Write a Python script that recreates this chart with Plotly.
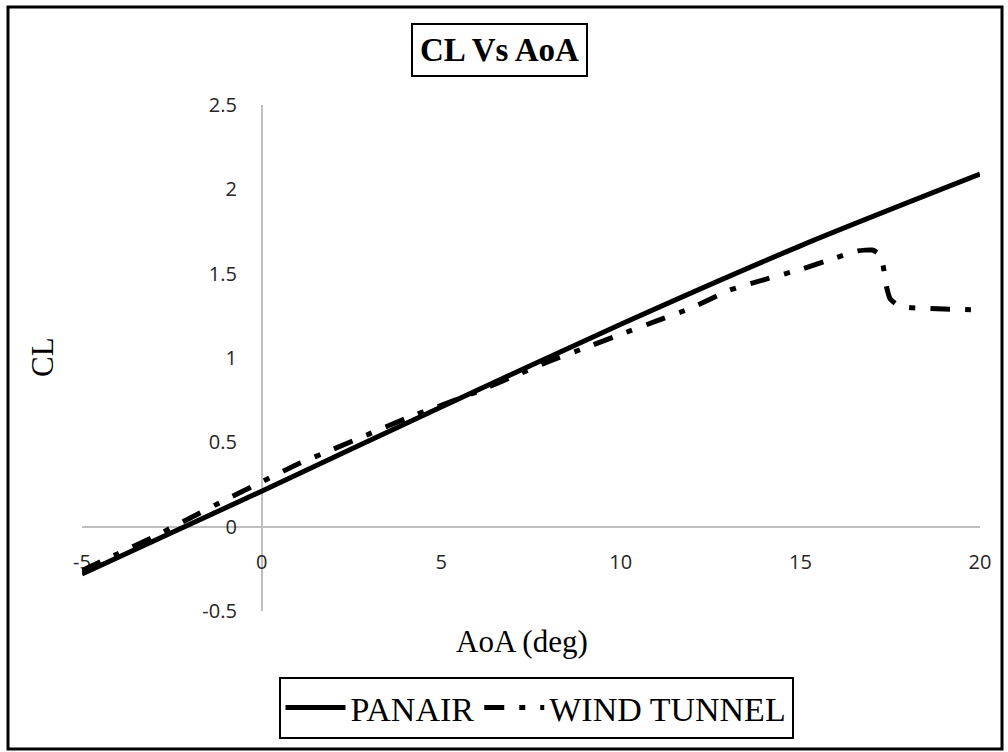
import plotly.graph_objects as go

# ---- data ----
aoa_panair = [-5, 0, 5, 10, 15, 20]
cl_panair = [-0.28, 0.21, 0.71, 1.20, 1.665, 2.09]

aoa_wind = [-5, -4, -3, -2, -1, 0, 1, 2, 3, 4, 5, 6, 7, 8, 9, 10, 11, 12, 13, 14,
            15, 16, 16.6, 17.0, 17.2, 17.3, 17.4, 17.5, 17.7, 18, 19, 20]
cl_wind = [-0.26, -0.16, -0.06, 0.05, 0.16, 0.265, 0.37, 0.46, 0.55, 0.64, 0.72,
           0.80, 0.89, 0.98, 1.06, 1.14, 1.22, 1.30, 1.40, 1.465, 1.525, 1.595,
           1.635, 1.64, 1.615, 1.55, 1.42, 1.35, 1.315, 1.30, 1.29, 1.285]

x_ticks = [-5, 0, 5, 10, 15, 20]
y_ticks = [-0.5, 0, 0.5, 1, 1.5, 2, 2.5]
y_tick_text = ["-0.5", "0", "0.5", "1", "1.5", "2", "2.5"]

title_text = "CL Vs AoA"
x_title = "AoA (deg)"
y_title = "CL"

# ---- layout geometry (pixels) ----
W, H = 1008, 752
L, R, T, B = 82, 28, 105, 141
PW, PH = W - L - R, H - T - B


def px(xp):
    return (xp - L) / PW


def py(yp):
    return (H - B - yp) / PH


fig = go.Figure()
fig.add_trace(go.Scatter(
    x=aoa_panair, y=cl_panair, mode="lines", name="PANAIR",
    line=dict(color="black", width=5, shape="spline", smoothing=0.8),
))
fig.add_trace(go.Scatter(
    x=aoa_wind, y=cl_wind, mode="lines", name="WIND TUNNEL",
    line=dict(color="black", width=5, dash="20px,15px,6px,15px",
              shape="spline", smoothing=0.5),
))

axis_font = dict(family="Open Sans, Noto Sans, sans-serif", size=20, color="#262626")
serif = "Liberation Serif, Times New Roman, serif"

fig.update_layout(
    width=W, height=H,
    margin=dict(l=L, r=R, t=T, b=B),
    paper_bgcolor="white", plot_bgcolor="white",
    showlegend=True,
    legend=dict(
        orientation="h", x=px(536), y=py(708), xanchor="center", yanchor="middle",
        font=dict(family=serif, size=34, color="black"),
        bordercolor="black", borderwidth=2, bgcolor="white",
        itemwidth=60, tracegroupgap=0,
    ),
    xaxis=dict(
        range=[-5, 20], tickvals=x_ticks, ticktext=[str(v) for v in x_ticks],
        anchor="free", position=1 / 6, showline=True, linecolor="#BFBFBF",
        linewidth=1.5, showgrid=False, zeroline=False, ticks="",
        tickfont=axis_font, ticklabelstandoff=18, layer="below traces",
    ),
    yaxis=dict(
        range=[-0.5, 2.5], tickvals=y_ticks, ticktext=y_tick_text,
        anchor="free", position=0.2, showline=True, linecolor="#BFBFBF",
        linewidth=1.5, showgrid=False, zeroline=False, ticks="",
        tickfont=axis_font, ticklabelstandoff=20, layer="below traces",
    ),
    annotations=[
        dict(text="<b>" + title_text + "</b>", xref="paper", yref="paper",
             x=px(499), y=py(50), xanchor="center", yanchor="middle",
             showarrow=False, font=dict(family=serif, size=33, color="black"),
             bordercolor="black", borderwidth=2, borderpad=7, bgcolor="white"),
        dict(text=x_title, xref="paper", yref="paper", x=px(522), y=py(641),
             xanchor="center", yanchor="middle", showarrow=False,
             font=dict(family=serif, size=31, color="black")),
        dict(text=y_title, xref="paper", yref="paper", x=px(42), y=py(357),
             xanchor="center", yanchor="middle", showarrow=False, textangle=-90,
             font=dict(family=serif, size=31, color="black")),
    ],
    shapes=[
        dict(type="rect", xref="paper", yref="paper",
             x0=px(8), x1=px(1002), y0=py(749), y1=py(7),
             line=dict(color="black", width=3), layer="above"),
    ],
)

fig.write_html("out.html", config={"displayModeBar": False},
               post_script="document.body.style.margin='0';")
